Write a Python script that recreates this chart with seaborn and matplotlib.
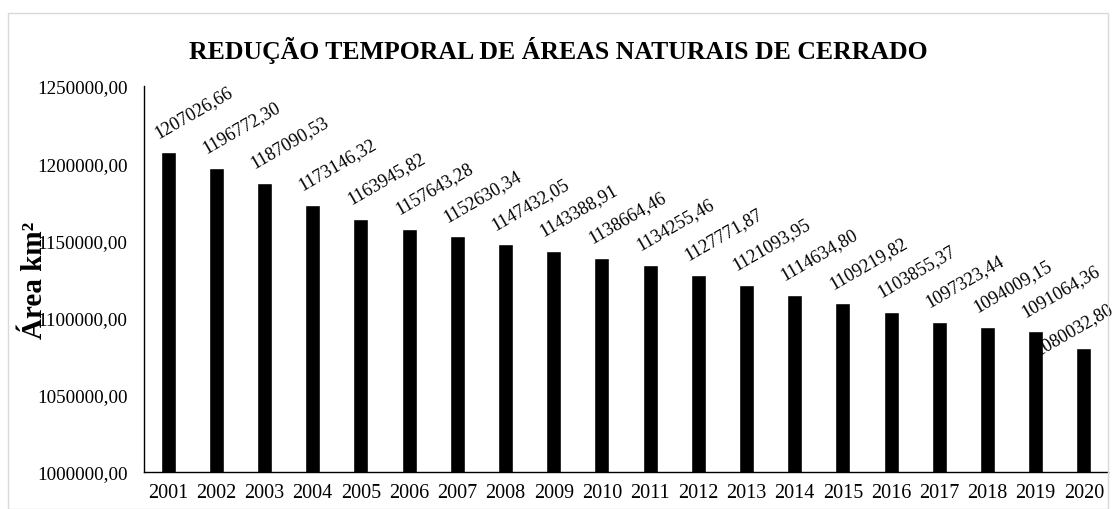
import matplotlib
matplotlib.use("Agg")
import matplotlib.pyplot as plt
import seaborn as sns
import pandas as pd
from matplotlib.patches import Rectangle
from matplotlib.ticker import FuncFormatter, MultipleLocator

years = [str(y) for y in range(2001, 2021)]
areas = [1207026.66, 1196772.30, 1187090.53, 1173146.32, 1163945.82, 1157643.28,
         1152630.34, 1147432.05, 1143388.91, 1138664.46, 1134255.46, 1127771.87,
         1121093.95, 1114634.80, 1109219.82, 1103855.37, 1097323.44, 1094009.15,
         1091064.36, 1080032.80]
labels = ["1207026,66", "1196772,30", "1187090,53", "1173146,32", "1163945,82",
          "1157643,28", "1152630,34", "1147432,05", "1143388,91", "1138664,46",
          "1134255,46", "1127771,87", "1121093,95", "1114634,80", "1109219,82",
          "1103855,37", "1097323,44", "1094009,15", "1091064,36", "1080032,80"]
title = "REDUÇÃO TEMPORAL DE ÁREAS NATURAIS DE CERRADO"
ylabel = "Área km²"

sns.set_theme(style="white")
plt.rcParams['font.family'] = ['Liberation Serif', 'DejaVu Serif']

df = pd.DataFrame({"ano": years, "area": areas})

fig = plt.figure(figsize=(11.16, 5.10), dpi=100)
ax = fig.add_axes([144/1116, 1 - 473/510, (1108 - 144)/1116, (473 - 87)/510])

sns.barplot(data=df, x="ano", y="area", color="black", width=0.31,
            saturation=1, ax=ax)

ax.set_ylim(1000000, 1250000)
ax.yaxis.set_major_locator(MultipleLocator(50000))
ax.yaxis.set_major_formatter(FuncFormatter(lambda v, p: f"{v:.2f}".replace(".", ",")))
ax.set_xlim(-0.5, len(years) - 0.5)

for s in ["top", "right"]:
    ax.spines[s].set_visible(False)
for s in ["left", "bottom"]:
    ax.spines[s].set_color("black")
    ax.spines[s].set_linewidth(1.0)

ax.tick_params(axis="y", length=0, labelsize=13.8, pad=12, colors="black")
ax.tick_params(axis="x", length=0, labelsize=14.5, pad=8, colors="black")
ax.set_xlabel("")
ax.set_ylabel(ylabel, fontsize=21, fontweight="bold", labelpad=0, color="black")
ax.yaxis.set_label_coords(-0.1, 0.5)

n = len(areas)
for i, (v, lab) in enumerate(zip(areas, labels)):
    off = (-7.5, 11) if i < n - 1 else (-33, -4)
    ax.annotate(lab, xy=(i, v), xytext=off, textcoords="offset points",
                rotation=30, rotation_mode="anchor", ha="left", va="baseline",
                fontsize=13.2, color="black", annotation_clip=False)

fig.text(0.5, 1 - 50/510, title, ha="center", va="center",
         fontsize=18.5, fontweight="bold", color="black")

fig.patches.append(Rectangle((8/1116, 0.0), 1 - 16/1116, 1 - 14/510, transform=fig.transFigure,
                             fill=False, edgecolor="#d9d9d9", linewidth=1.0))

fig.savefig("out.png", dpi=100)
